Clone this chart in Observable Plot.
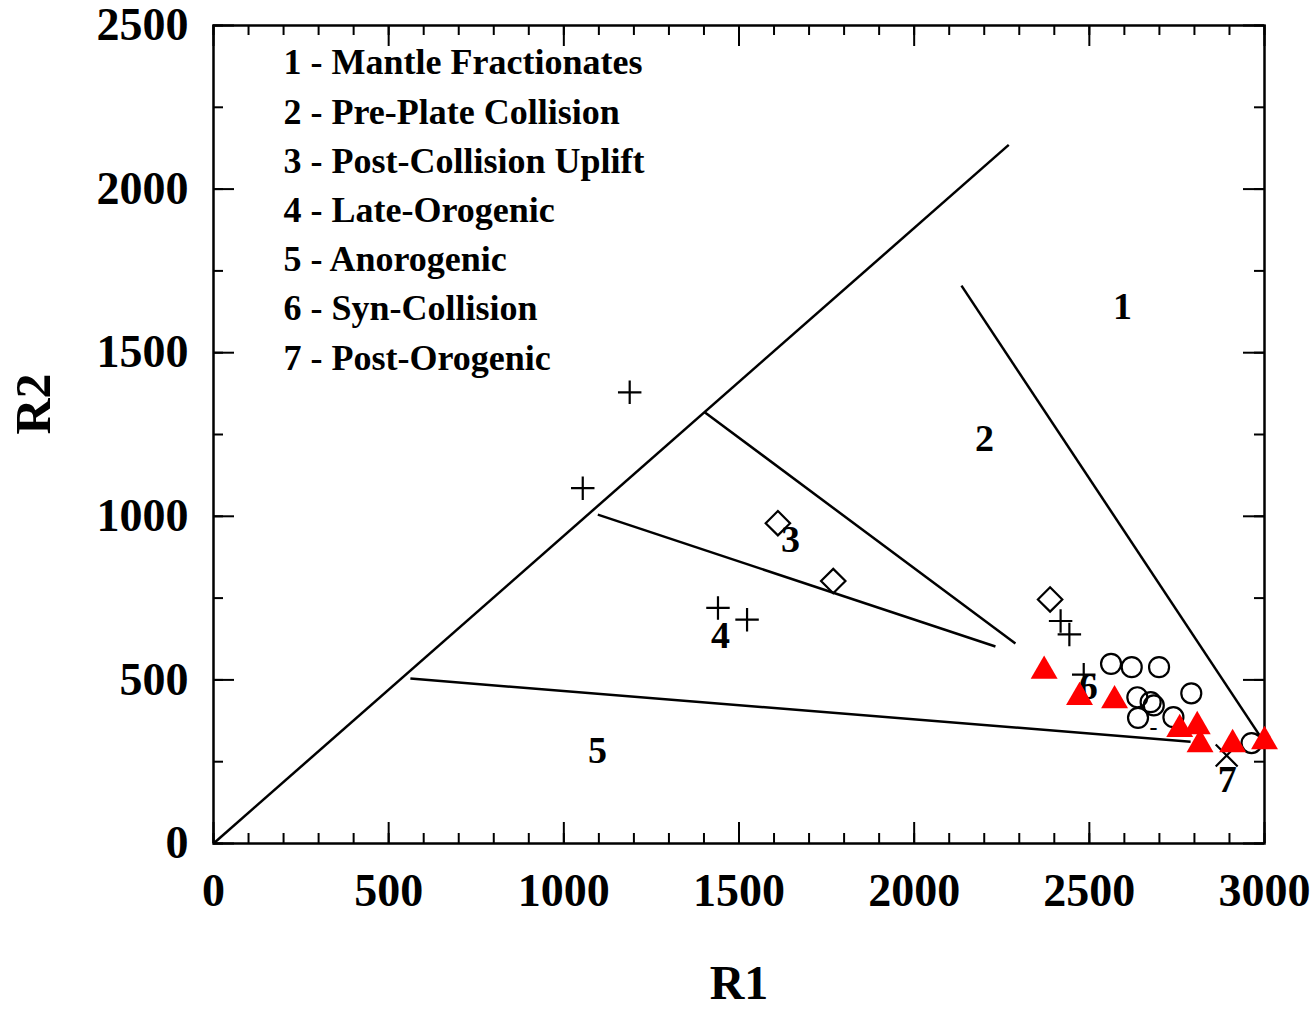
<!DOCTYPE html>
<html><head><meta charset="utf-8">
<script src="https://cdn.jsdelivr.net/npm/d3@7"></script>
<script src="https://cdn.jsdelivr.net/npm/@observablehq/plot@0.6"></script>
<style>html,body{margin:0;padding:0;background:#fff}</style>
</head><body><div id="chart"></div>
<script>
// ---- data ----
const xTicksMajor = [0, 500, 1000, 1500, 2000, 2500, 3000];
const xTicksMinor = d3.range(0, 3001, 100);
const yTicksMajor = [0, 500, 1000, 1500, 2000, 2500];
const yTicksMinor = d3.range(0, 2501, 250);

const plusR1 = [1188, 1054, 1440, 1523, 2418, 2443, 2484];
const plusR2 = [1379, 1086, 720, 684, 680, 639, 516];

const diamondR1 = [1611, 1769, 2388];
const diamondR2 = [979, 802, 746];

const circleR1 = [2562, 2621, 2699, 2791, 2637, 2675, 2684, 2639, 2740, 2963];
const circleR2 = [549, 539, 539, 459, 447, 432, 422, 384, 386, 307];

const triangleR1 = [2371, 2472, 2572, 2758, 2808, 2816, 2909, 3000];
const triangleR2 = [527, 447, 437, 349, 358, 303, 303, 312];

const timesR1 = [2892];
const timesR2 = [269];

const dashR1 = [2683];
const dashR2 = [355];

// field boundaries (R1,R2 end points)
const boundX1 = [0, 2135, 1402, 1097, 562];
const boundY1 = [0, 1705, 1318, 1005, 504];
const boundX2 = [2270, 2995, 2289, 2232, 2789];
const boundY2 = [2135, 316, 611, 602, 311];

const fieldLabel = ["1", "2", "3", "4", "5", "6", "7"];
const fieldR1 = [2595, 2201, 1647, 1447, 1096, 2497, 2894];
const fieldR2 = [1641, 1238, 929, 636, 284, 478, 196];

const legendItems = [
  "1 - Mantle Fractionates",
  "2 - Pre-Plate Collision",
  "3 - Post-Collision Uplift",
  "4 - Late-Orogenic",
  "5 - Anorogenic",
  "6 - Syn-Collision",
  "7 - Post-Orogenic"
];

// ---- build ----
const pts = (xs, ys) => xs.map((x, i) => ({x, y: ys[i]}));
const plus = pts(plusR1, plusR2);
const diamonds = pts(diamondR1, diamondR2);
const circles = pts(circleR1, circleR2);
const triangles = pts(triangleR1, triangleR2);
const times = pts(timesR1, timesR2);
const dashes = pts(dashR1, dashR2);
const bounds = boundX1.map((x1, i) => ({x1, y1: boundY1[i], x2: boundX2[i], y2: boundY2[i]}));
const fields = fieldLabel.map((t, i) => ({t, x: fieldR1[i], y: fieldR2[i]}));

const W = 1311, H = 1011, mL = 213, mR = 47, mT = 25, mB = 168;
const fw = W - mL - mR, fh = H - mT - mB;
const font = "Liberation Serif, Times New Roman, serif";

const chart = Plot.plot({
  width: W, height: H,
  marginLeft: mL, marginRight: mR, marginTop: mT, marginBottom: mB,
  x: {domain: [0, 3000], axis: null},
  y: {domain: [0, 2500], axis: null},
  style: {fontFamily: font, fontWeight: "bold", background: "white", color: "black"},
  marks: [
    // ticks (inward, all four sides)
    Plot.tickX(xTicksMinor, {x: d => d, insetTop: fh - 10, stroke: "black", strokeWidth: 2}),
    Plot.tickX(xTicksMinor, {x: d => d, insetBottom: fh - 10, stroke: "black", strokeWidth: 2}),
    Plot.tickX(xTicksMajor, {x: d => d, insetTop: fh - 21, stroke: "black", strokeWidth: 2}),
    Plot.tickX(xTicksMajor, {x: d => d, insetBottom: fh - 21, stroke: "black", strokeWidth: 2}),
    Plot.tickY(yTicksMinor, {y: d => d, insetRight: fw - 10, stroke: "black", strokeWidth: 2}),
    Plot.tickY(yTicksMinor, {y: d => d, insetLeft: fw - 10, stroke: "black", strokeWidth: 2}),
    Plot.tickY(yTicksMajor, {y: d => d, insetRight: fw - 21, stroke: "black", strokeWidth: 2}),
    Plot.tickY(yTicksMajor, {y: d => d, insetLeft: fw - 21, stroke: "black", strokeWidth: 2}),
    Plot.frame({stroke: "black", strokeWidth: 2.5}),
    // tick labels
    Plot.text(xTicksMajor, {x: d => d, text: d => String(d), frameAnchor: "bottom", dy: 62, fontSize: 46, fontWeight: "bold", fill: "black"}),
    Plot.text(yTicksMajor, {y: d => d, text: d => String(d), frameAnchor: "left", dx: -25, textAnchor: "end", fontSize: 46, fontWeight: "bold", fill: "black"}),
    // axis titles
    Plot.text(["R1"], {frameAnchor: "bottom", dy: 155, fontSize: 48, fontWeight: "bold", fill: "black"}),
    Plot.text(["R2"], {frameAnchor: "left", dx: -180, rotate: -90, fontSize: 50, fontWeight: "bold", fill: "black"}),
    // legend
    Plot.text([legendItems.join("\n")], {frameAnchor: "top-left", dx: 70, dy: 14, lineAnchor: "top", lineHeight: 49.2 / 36, textAnchor: "start", fontSize: 36, fontWeight: "bold", fill: "black"}),
    // field boundaries
    Plot.link(bounds, {x1: "x1", y1: "y1", x2: "x2", y2: "y2", stroke: "black", strokeWidth: 2.5}),
    // field labels
    Plot.text(fields, {x: "x", y: "y", text: "t", fontSize: 38, fontWeight: "bold", fill: "black"}),
    // samples
    Plot.text(dashes, {x: "x", y: "y", text: () => "-", fontSize: 24, fill: "black"}),
    Plot.dot(circles, {x: "x", y: "y", symbol: "circle", r: 10, stroke: "black", strokeWidth: 2.2, fill: "none"}),
    Plot.dot(plus, {x: "x", y: "y", symbol: "plus", r: 7.6, stroke: "black", strokeWidth: 2.2}),
    Plot.dot(diamonds, {x: "x", y: "y", symbol: "diamond2", r: 11, stroke: "black", strokeWidth: 2.2, fill: "none"}),
    Plot.dot(times, {x: "x", y: "y", symbol: "times", r: 10, stroke: "black", strokeWidth: 2.2}),
    Plot.dot(triangles, {x: "x", y: "y", symbol: "triangle", r: 10, fill: "#ff0000", stroke: "none"})
  ]
});
document.getElementById("chart").appendChild(chart);
</script>
</body></html>
